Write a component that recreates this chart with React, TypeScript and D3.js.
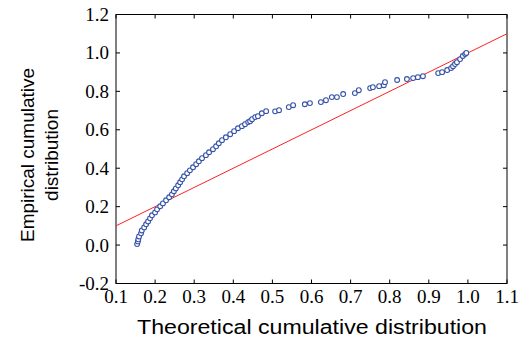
import React from 'react';
import * as d3 from 'd3';

// theoretical vs empirical cumulative distribution (P-P plot)
const theoretical = [
  0.154, 0.156, 0.157, 0.159, 0.164, 0.166, 0.172, 0.177, 0.182, 0.187,
  0.192, 0.2, 0.205, 0.213, 0.22, 0.228, 0.236, 0.243, 0.248, 0.253,
  0.259, 0.264, 0.269, 0.274, 0.282, 0.289, 0.297, 0.305, 0.312, 0.32,
  0.33, 0.338, 0.348, 0.356, 0.363, 0.371, 0.381, 0.392, 0.402, 0.412,
  0.422, 0.43, 0.438, 0.443, 0.448, 0.456, 0.463, 0.473, 0.484, 0.507,
  0.517, 0.542, 0.553, 0.583, 0.596, 0.624, 0.637, 0.652, 0.665, 0.681,
  0.711, 0.721, 0.75, 0.757, 0.773, 0.785, 0.788, 0.819, 0.844, 0.86,
  0.872, 0.885, 0.924, 0.934, 0.947, 0.957, 0.962, 0.967, 0.972, 0.98,
  0.987, 0.993, 0.996,
];
const empirical = [
  0.005, 0.019, 0.03, 0.045, 0.061, 0.076, 0.092, 0.108, 0.123, 0.139,
  0.155, 0.17, 0.186, 0.202, 0.217, 0.233, 0.249, 0.264, 0.28, 0.295,
  0.311, 0.327, 0.342, 0.358, 0.374, 0.389, 0.405, 0.421, 0.436, 0.452,
  0.468, 0.483, 0.499, 0.514, 0.53, 0.546, 0.561, 0.577, 0.593, 0.608,
  0.619, 0.629, 0.64, 0.645, 0.655, 0.666, 0.671, 0.686, 0.697, 0.696,
  0.702, 0.718, 0.728, 0.733, 0.739, 0.744, 0.754, 0.77, 0.77, 0.786,
  0.791, 0.806, 0.817, 0.822, 0.827, 0.832, 0.848, 0.859, 0.864, 0.869,
  0.874, 0.879, 0.895, 0.9, 0.911, 0.921, 0.931, 0.942, 0.952, 0.968,
  0.984, 0.994, 1.0,
];
const xTicks = [0.1, 0.2, 0.3, 0.4, 0.5, 0.6, 0.7, 0.8, 0.9, 1.0, 1.1];
const yTicks = [-0.2, 0.0, 0.2, 0.4, 0.6, 0.8, 1.0, 1.2];

const App = () => {
  const width = 529;
  const height = 343;
  const left = 116, right = 507, top = 14.5, bottom = 283.5;

  const x = d3.scaleLinear().domain([0.1, 1.1]).range([left, right]);
  const y = d3.scaleLinear().domain([-0.2, 1.2]).range([bottom, top]);
  const tick = 4;

  const refLine = d3.line<number>().x(d => x(d)).y(d => y(d));

  return (
    <svg width={width} height={height} style={{ position: 'absolute', left: 0, top: 0 }}>
      <defs>
        <clipPath id="plot">
          <rect x={left} y={top} width={right - left} height={bottom - top} />
        </clipPath>
      </defs>

      {/* frame */}
      <rect x={left} y={top} width={right - left} height={bottom - top} fill="none" stroke="#000" strokeWidth={1} />

      {/* inward ticks */}
      {xTicks.map(t => (
        <g key={'x' + t}>
          <line x1={x(t)} x2={x(t)} y1={bottom} y2={bottom - tick} stroke="#000" />
          <line x1={x(t)} x2={x(t)} y1={top} y2={top + tick} stroke="#000" />
          <text x={x(t)} y={bottom + 19} textAnchor="middle" fontFamily="Liberation Serif" fontSize={19}>
            {d3.format('.1f')(t)}
          </text>
        </g>
      ))}
      {yTicks.map(t => (
        <g key={'y' + t}>
          <line x1={left} x2={left + tick} y1={y(t)} y2={y(t)} stroke="#000" />
          <line x1={right} x2={right - tick} y1={y(t)} y2={y(t)} stroke="#000" />
          <text x={left - 7} y={y(t) + 6.5} textAnchor="end" fontFamily="Liberation Serif" fontSize={19}>
            {d3.format('.1f')(t).replace('−', '-')}
          </text>
        </g>
      ))}

      {/* reference line y = x */}
      <path d={refLine([0.1, 1.1]) || ''} stroke="#ff2020" strokeWidth={1} fill="none" clipPath="url(#plot)" />

      {/* points */}
      {theoretical.map((t, i) => (
        <circle key={i} cx={x(t)} cy={y(empirical[i])} r={2.4} fill="#fff" stroke="#3552a6" strokeWidth={1.1} />
      ))}

      <text x={312} y={334} textAnchor="middle" fontFamily="Liberation Sans" fontSize={20}
        textLength={350} lengthAdjust="spacingAndGlyphs">
        Theoretical cumulative distribution
      </text>
      <g transform={`translate(39, ${(top + bottom) / 2 + 6}) rotate(-90)`}>
        <text x={0} y={-5} textAnchor="middle" fontFamily="Liberation Sans" fontSize={19}
          textLength={174} lengthAdjust="spacingAndGlyphs">
          Empirical cumulative
        </text>
        <text x={0} y={19} textAnchor="middle" fontFamily="Liberation Sans" fontSize={19}>
          distribution
        </text>
      </g>
    </svg>
  );
};

export default App;
